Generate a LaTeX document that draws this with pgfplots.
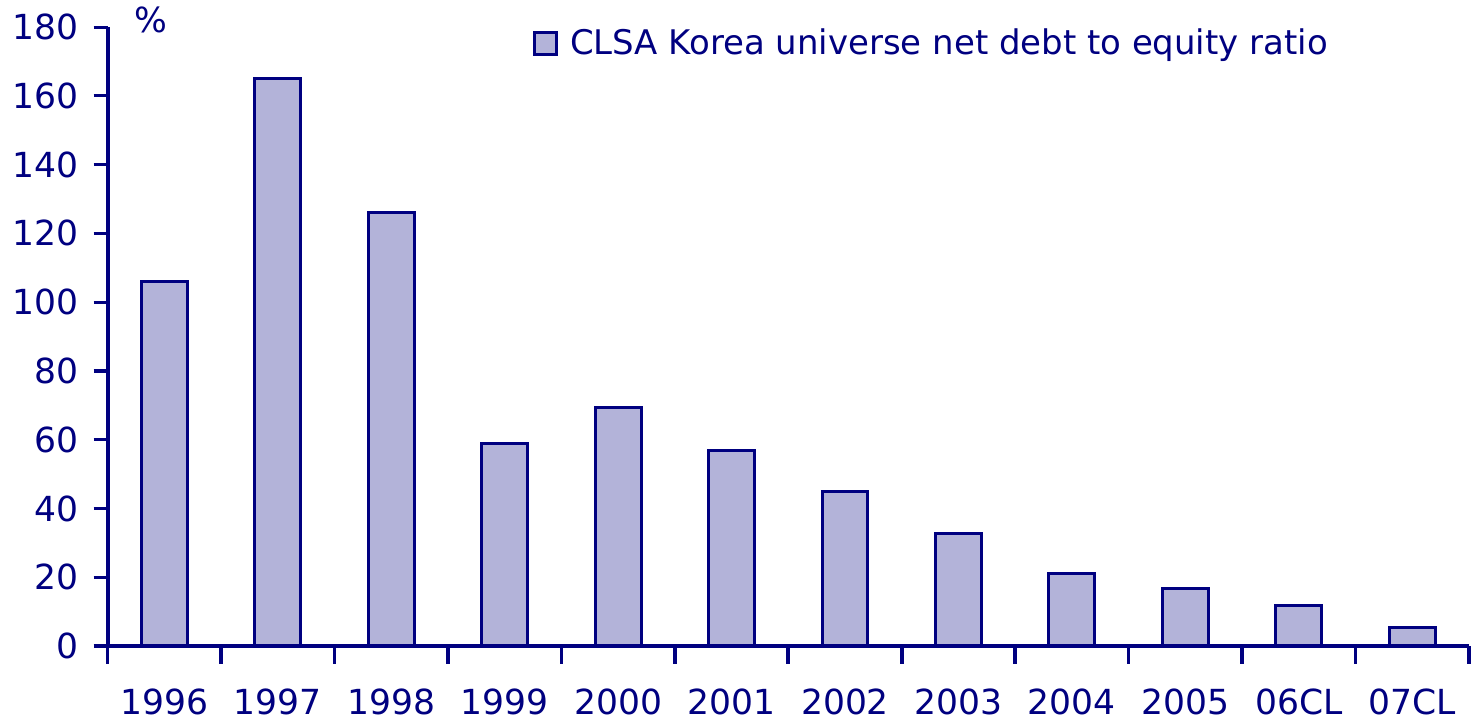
\documentclass[border=0pt]{standalone}
\usepackage{pgfplots}
\pgfplotsset{compat=1.18}
\usepackage{fontspec}
\setmainfont{DejaVu Sans}
\definecolor{navy}{RGB}{0,0,128}
\definecolor{barfill}{RGB}{179,179,217}
\begin{document}
\begin{tikzpicture}
\begin{axis}[
  scale only axis,
  width=682pt, height=310pt,
  xmin=-0.5, xmax=11.5,
  ymin=0, ymax=180,
  ytick={0,20,...,180},
  xtick={0,...,11},
  xticklabels={1996,1997,1998,1999,2000,2001,2002,2003,2004,2005,06CL,07CL},
  minor xtick={-0.5,0.5,...,11.5},
  axis x line=bottom, axis y line=left,
  axis line style={-, line width=2pt, navy},
  tick align=outside,
  major tick length=7pt,
  minor tick length=9pt,
  xtick style={draw=none},
  ytick style={draw=navy, line width=1.6pt},
  minor x tick style={draw=navy, line width=1.8pt},
  tick label style={font=\fontsize{17.3}{20}\selectfont, text=navy},
  xticklabel style={yshift=-11pt},
  yticklabel style={xshift=-4pt},
  /pgf/number format/assume math mode=true,
  ybar, bar width=23pt,
  legend style={draw=none, fill=none, at={(0.8995,0.974)}, anchor=east,
    font=\fontsize{17}{20}\selectfont, text=navy, inner sep=0pt},
  legend image code/.code={\draw[#1, line width=1.5pt] (0pt,-5.5pt) rectangle (11pt,5.5pt);},
  clip=false,
]
\addplot[draw=navy, fill=barfill, line width=1.5pt] coordinates {
(0,106) (1,165) (2,126) (3,59) (4,69.3) (5,57) (6,45) (7,32.7) (8,21) (9,16.7) (10,11.7) (11,5.3)
};
\addlegendentry{\hspace{4pt}CLSA Korea universe net debt to equity ratio}
\node[text=navy, font=\fontsize{17.3}{20}\selectfont] at (axis description cs:0.032,1.012) {\%};
\end{axis}
\path (current bounding box.south west) ++(-3pt,-1pt);
\end{tikzpicture}
\end{document}
